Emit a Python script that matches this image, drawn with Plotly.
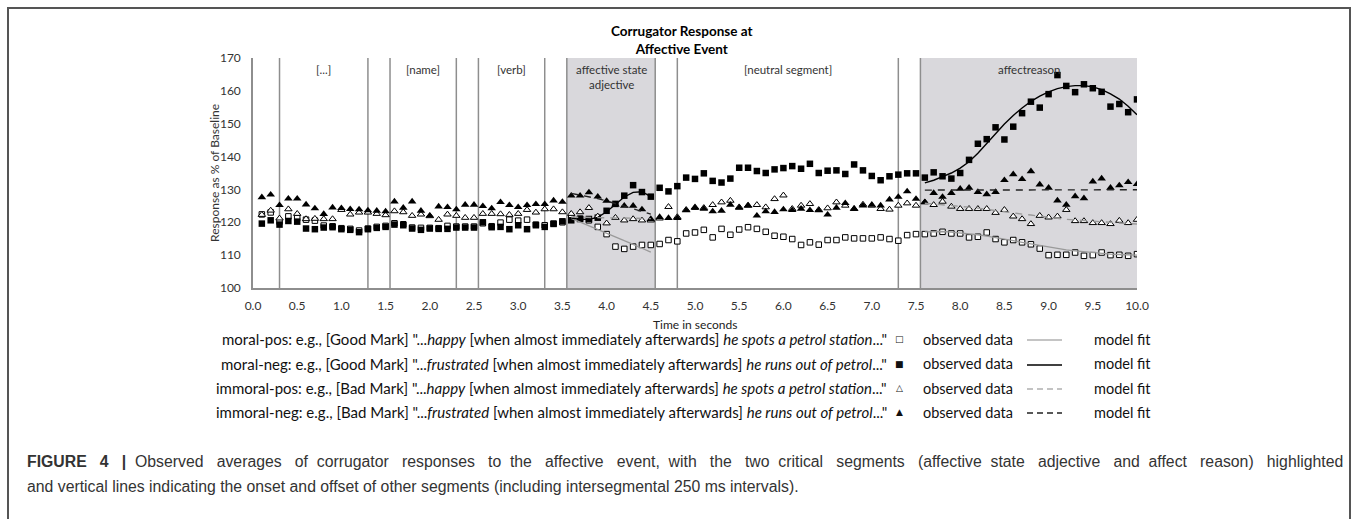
import plotly.graph_objects as go

# ---- data -------------------------------------------------------------
# sampling times (s), 100 ms bins
time_s = [round(0.1 * i, 1) for i in range(1, 101)]

moral_pos = [122.4, 123.0, 120.2, 121.8, 121.3, 120.8, 120.5, 119.0, 118.8, 118.2,
             118.0, 117.5, 118.1, 118.6, 118.9, 119.7, 119.4, 118.4, 118.3, 118.3,
             118.2, 118.9, 118.7, 118.7, 118.7, 119.7, 118.8, 119.9, 120.8, 120.5,
             120.8, 119.3, 119.1, 119.6, 120.0, 121.5, 121.1, 120.6, 118.6, 116.4,
             112.6, 111.9, 112.6, 113.1, 113.1, 113.4, 114.6, 114.2, 116.6, 116.9,
             117.7, 115.4, 118.0, 116.2, 117.8, 118.5, 118.0, 117.1, 115.9, 115.6,
             114.9, 113.1, 113.9, 113.2, 114.6, 114.6, 115.4, 115.1, 115.1, 115.1,
             115.4, 114.9, 114.4, 116.1, 116.4, 116.4, 116.6, 117.1, 116.6, 116.6,
             115.4, 115.6, 116.9, 114.9, 113.9, 114.6, 113.9, 113.3, 112.0, 110.0,
             110.1, 110.1, 110.8, 109.8, 110.0, 110.8, 110.0, 110.1, 109.8, 110.3]

moral_neg = [119.6, 120.6, 119.3, 120.4, 120.2, 118.1, 117.9, 118.4, 118.5, 117.9,
             117.7, 117.0, 117.9, 118.3, 118.6, 119.3, 119.1, 118.1, 117.7, 118.1,
             118.0, 118.0, 118.4, 118.4, 118.4, 120.0, 118.5, 118.6, 117.9, 119.1,
             117.9, 119.1, 118.6, 119.5, 120.3, 120.6, 121.0, 121.0, 121.4, 123.5,
             125.6, 128.1, 131.3, 129.2, 127.8, 130.5, 129.4, 131.0, 133.6, 133.2,
             134.9, 132.6, 132.1, 133.3, 136.6, 136.6, 135.6, 135.0, 136.1, 136.5,
             137.1, 136.3, 137.8, 135.0, 135.7, 135.8, 134.7, 137.6, 135.8, 134.1,
             132.8, 134.0, 134.5, 134.9, 134.9, 133.6, 135.2, 134.0, 133.3, 135.0,
             139.0, 143.9, 145.3, 148.9, 145.2, 149.1, 153.2, 156.7, 154.9, 159.0,
             164.8, 161.5, 159.6, 162.0, 160.8, 159.7, 155.2, 156.0, 153.5, 157.4]

immoral_pos = [122.3, 123.6, 121.2, 124.0, 122.6, 121.0, 121.1, 121.0, 121.0, 123.8,
               122.4, 123.0, 123.0, 122.6, 122.2, 123.4, 123.1, 122.0, 122.4, 121.9,
               120.8, 122.4, 122.0, 121.4, 121.4, 122.6, 122.6, 122.5, 122.3, 122.6,
               123.8, 123.0, 124.0, 124.0, 123.1, 122.6, 123.1, 124.4, 121.8, 119.7,
               121.4, 120.6, 121.0, 120.6, 120.6, 121.2, 124.7, 121.6, 123.8, 124.4,
               124.4, 125.3, 126.1, 126.6, 124.6, 125.1, 125.3, 124.6, 127.1, 128.2,
               124.1, 125.1, 125.6, 123.8, 124.3, 126.1, 125.1, 124.1, 125.4, 125.1,
               124.1, 123.9, 125.1, 125.8, 125.1, 126.1, 125.3, 126.3, 124.8, 124.1,
               124.1, 124.1, 124.1, 122.9, 123.8, 121.8, 121.0, 119.5, 122.0, 121.5,
               121.8, 123.8, 120.4, 120.4, 119.8, 119.8, 119.5, 120.5, 119.8, 120.8]

immoral_neg = [127.6, 128.4, 125.2, 127.2, 127.2, 125.4, 124.2, 122.5, 124.5, 124.3,
               124.0, 123.9, 123.6, 123.5, 123.3, 126.3, 124.4, 126.3, 123.5, 122.0,
               124.8, 124.6, 123.9, 125.3, 125.3, 124.9, 124.2, 126.1, 125.2, 124.6,
               125.2, 125.5, 125.5, 126.6, 126.2, 128.1, 128.1, 129.1, 127.8, 126.5,
               125.4, 125.0, 125.0, 123.9, 121.0, 121.6, 121.3, 121.3, 123.6, 124.6,
               124.1, 123.3, 123.5, 125.3, 124.4, 125.1, 122.0, 123.3, 123.1, 123.9,
               123.7, 124.1, 123.7, 123.6, 122.3, 124.4, 125.8, 124.1, 125.1, 125.3,
               125.1, 126.9, 127.7, 129.4, 127.1, 126.1, 128.9, 127.7, 128.9, 130.2,
               130.5, 129.2, 128.5, 129.2, 132.8, 134.6, 133.1, 135.5, 131.5, 130.5,
               126.6, 125.3, 127.9, 127.3, 132.4, 133.3, 130.5, 131.2, 132.2, 131.6]

# model fits inside the two critical segments
fit_t_adj = [3.6, 3.7, 3.8, 3.9, 4.0, 4.1, 4.2, 4.3, 4.4, 4.5]
fit_t_rsn = [round(7.6 + 0.1 * i, 1) for i in range(25)]

moral_pos_fit_adj = [121.2, 120.1, 119.0, 117.9, 116.8, 115.6, 114.5, 113.3, 112.1, 110.9]
moral_neg_fit_adj = [121.3, 120.9, 120.9, 121.5, 123.2, 125.5, 127.7, 129.1, 129.3, 127.8]
immoral_pos_fit_adj = [121.6, 121.5, 121.5, 121.4, 121.4, 121.3, 121.3, 121.2, 121.2, 121.1]
immoral_neg_fit_adj = [128.8, 128.3, 127.8, 127.2, 126.5, 125.7, 124.9, 124.1, 123.3, 122.5]

moral_pos_fit_rsn = [117.1, 117.2, 117.2, 117.0, 116.8, 116.5, 116.2, 115.8, 115.4, 114.9,
                     114.4, 113.9, 113.4, 112.9, 112.4, 112.0, 111.6, 111.3, 111.0, 110.7,
                     110.5, 110.3, 110.2, 110.1, 110.0]
moral_neg_fit_rsn = [132.0, 132.8, 133.9, 135.0, 136.5, 138.4, 141.0, 144.0, 147.0, 149.9,
                     152.5, 154.8, 156.8, 158.4, 159.7, 160.7, 161.3, 161.6, 161.6, 161.2,
                     160.4, 159.1, 157.5, 155.3, 152.7]
immoral_pos_fit_rsn = [125.8, 125.6, 125.4, 125.2, 125.0, 124.6, 124.3, 123.9, 123.6, 123.3,
                       122.9, 122.5, 122.2, 121.8, 121.5, 121.2, 120.9, 120.7, 120.4, 120.2,
                       120.0, 119.8, 119.7, 119.6, 119.5]
immoral_neg_fit_rsn = [129.8, 129.8, 129.8, 129.8, 129.9, 129.9, 129.9, 129.9, 129.9, 129.9,
                       129.9, 129.9, 129.9, 129.9, 129.9, 129.9, 129.9, 129.9, 129.9, 129.9,
                       129.9, 129.9, 129.9, 129.9, 129.9]

# segment structure of the sentence (s)
segment_bounds = [0.3, 1.3, 1.55, 2.3, 2.55, 3.3, 3.55, 4.55, 4.8, 7.3, 7.55]
critical_segments = [(3.55, 4.55), (7.55, 10.0)]
segment_labels = ["[...]", "[name]", "[verb]", "affective state<br>adjective",
                  "[neutral segment]", "affectreason"]
segment_label_x = [0.8, 1.925, 2.925, 4.05, 6.05, 8.775]

legend_rows = [
    'moral-pos: e.g., [Good Mark] "...<i>happy</i> [when almost immediately afterwards] <i>he spots a petrol station</i>..."',
    'moral-neg: e.g., [Good Mark] "...<i>frustrated</i> [when almost immediately afterwards] <i>he runs out of petrol</i>..."',
    'immoral-pos: e.g., [Bad Mark] "...<i>happy</i> [when almost immediately afterwards] <i>he spots a petrol station</i>..."',
    'immoral-neg: e.g., [Bad Mark] "...<i>frustrated</i> [when almost immediately afterwards] <i>he runs out of petrol</i>..."',
]
legend_symbols = ["□", "■", "△", "▲"]

caption_words_1 = ["<b>FIGURE</b>", "<b>4</b>", "<b>|</b>", "Observed", "averages", "of",
                   "corrugator", "responses", "to", "the", "affective", "event,", "with",
                   "the", "two", "critical", "segments", "(affective", "state", "adjective",
                   "and", "affect", "reason)", "highlighted"]
caption_2 = ("and vertical lines indicating the onset and offset of other segments "
             "(including intersegmental 250 ms intervals).")

# ---- geometry ---------------------------------------------------------
W, H = 1358, 519
L, R, T, B = 253, 1137, 58, 288
FONT = "Lato"


def px(x):
    return (x - L) / (R - L)


def py(y):
    return (B - y) / (B - T)


GRAY = "#9a9a9a"
fig = go.Figure()

# observed data
fig.add_trace(go.Scatter(x=time_s, y=moral_pos, mode="markers",
                         marker=dict(symbol="square", size=5.5, color="white",
                                     line=dict(color="black", width=1))))
fig.add_trace(go.Scatter(x=time_s, y=moral_neg, mode="markers",
                         marker=dict(symbol="square", size=6.5, color="black",
                                     line=dict(width=0))))
fig.add_trace(go.Scatter(x=time_s, y=immoral_pos, mode="markers",
                         marker=dict(symbol="triangle-up", size=6.5, color="white",
                                     line=dict(color="black", width=1))))
fig.add_trace(go.Scatter(x=time_s, y=immoral_neg, mode="markers",
                         marker=dict(symbol="triangle-up", size=7.5, color="black",
                                     line=dict(width=0))))

# model fits
fit_styles = [
    (moral_pos_fit_adj, moral_pos_fit_rsn, dict(color=GRAY, width=1.3, dash="solid")),
    (moral_neg_fit_adj, moral_neg_fit_rsn, dict(color="black", width=1.4, dash="solid")),
    (immoral_pos_fit_adj, immoral_pos_fit_rsn, dict(color=GRAY, width=1.4, dash="7px,6px")),
    (immoral_neg_fit_adj, immoral_neg_fit_rsn, dict(color="#222", width=1.4, dash="7px,6px")),
]
for adj, rsn, ln in fit_styles:
    fig.add_trace(go.Scatter(x=fit_t_adj, y=adj, mode="lines", line=ln))
    fig.add_trace(go.Scatter(x=fit_t_rsn, y=rsn, mode="lines", line=ln))

shapes = []
for x0, x1 in critical_segments:
    shapes.append(dict(type="rect", xref="x", yref="y", x0=x0, x1=x1, y0=100, y1=170,
                       fillcolor="#d9d8dc", line=dict(width=0), layer="below"))
for xb in segment_bounds:
    shapes.append(dict(type="line", xref="x", yref="y", x0=xb, x1=xb, y0=100, y1=170,
                       line=dict(color="#8e8e8e", width=1.5), layer="below"))

# outer frame
shapes.append(dict(type="rect", xref="paper", yref="paper",
                   x0=px(8), x1=px(1350), y0=py(540), y1=py(8),
                   line=dict(color="#555", width=2), fillcolor="rgba(0,0,0,0)"))

annotations = []


def note(x, y, text, size, xanchor="center", yanchor="middle", color="#333",
         family=FONT, xref="paper", **kw):
    annotations.append(dict(xref=xref, yref="paper", x=x, y=y, text=text,
                            showarrow=False, xanchor=xanchor, yanchor=yanchor,
                            font=dict(family=family, size=size, color=color), **kw))


note(px(681), py(40), "<b>Corrugator Response at<br>Affective Event</b>", 13.5, color="black")
for lab, lx in zip(segment_labels, segment_label_x):
    note(lx, py(61), lab, 11.5, yanchor="top", xref="x")
note(px(214), 0.5, "Response as % of Baseline", 12, textangle=-90)
note(0.5, py(324), "Time in seconds", 12, color="#222")

row_y = [339, 364, 388, 412]
line_styles = [dict(color="#c4c4c4", width=2), dict(color="black", width=1.3),
               dict(color="#b0b0b0", width=1.3, dash="6px,4px"),
               dict(color="#222", width=1.3, dash="6px,4px")]
for txt, sym, yy, ls in zip(legend_rows, legend_symbols, row_y, line_styles):
    note(px(889), py(yy), txt, 15, xanchor="right", color="#111")
    note(px(899), py(yy), sym, 9, color="#111", family="DejaVu Sans")
    note(px(921), py(yy), "observed data", 14.5, xanchor="left", color="#111")
    note(px(1092), py(yy), "model fit", 14.5, xanchor="left", color="#111")
    shapes.append(dict(type="line", xref="paper", yref="paper", x0=px(1027), x1=px(1062),
                       y0=py(yy + 1), y1=py(yy + 1), line=ls))

# justified first caption line: word gaps widened in a 2-2-1 pattern
extra = [2, 2, 1]
caption_1 = caption_words_1[0]
for i, word in enumerate(caption_words_1[1:]):
    caption_1 += " " + "&nbsp;" * extra[i % 3] + word
note(px(25), py(461), caption_1, 15.8, xanchor="left", color="#333", family="Liberation Sans")
note(px(25), py(486), caption_2, 15.8, xanchor="left", color="#333", family="Liberation Sans")

fig.update_layout(
    width=W, height=H, autosize=False,
    margin=dict(l=L, r=W - R, t=T, b=H - B, pad=0),
    paper_bgcolor="white", plot_bgcolor="white",
    showlegend=False, shapes=shapes, annotations=annotations,
    font=dict(family=FONT, color="#333"),
)
fig.update_xaxes(range=[0, 10], dtick=0.5, tickformat=".1f", showgrid=False,
                 zeroline=False, showline=True, linecolor="#8e8e8e", linewidth=1.5,
                 ticks="", ticklabelstandoff=6, tickfont=dict(family=FONT, size=12, color="#333"))
fig.update_yaxes(range=[100, 170], dtick=10, showgrid=False, zeroline=False,
                 showline=True, linecolor="#8e8e8e", linewidth=1.5, ticks="",
                 ticklabelstandoff=8, tickfont=dict(family=FONT, size=12, color="#333"))

fig.write_html("out.html")
